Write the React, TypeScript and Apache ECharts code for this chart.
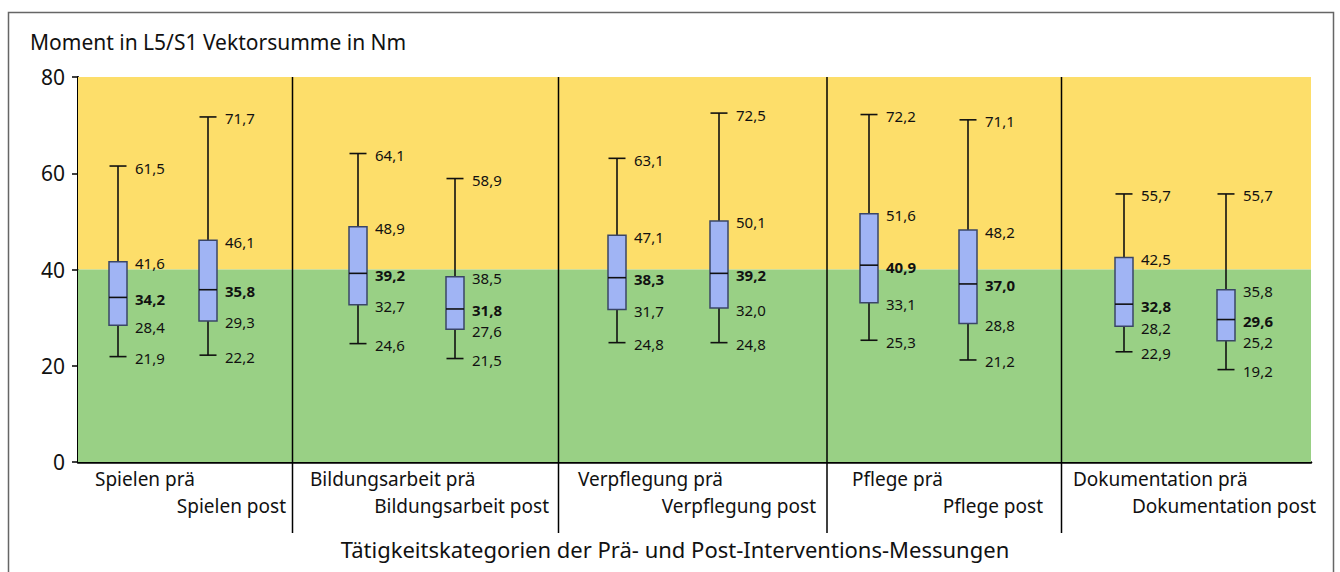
import React, { useEffect, useRef } from "react";
import * as echarts from "echarts";

const categories = [
  "Spielen prä", "Spielen post",
  "Bildungsarbeit prä", "Bildungsarbeit post",
  "Verpflegung prä", "Verpflegung post",
  "Pflege prä", "Pflege post",
  "Dokumentation prä", "Dokumentation post",
];
const minValues = [21.9, 22.2, 24.6, 21.5, 24.8, 24.8, 25.3, 21.2, 22.9, 19.2];
const q1Values = [28.4, 29.3, 32.7, 27.6, 31.7, 32.0, 33.1, 28.8, 28.2, 25.2];
const medianValues = [34.2, 35.8, 39.2, 31.8, 38.3, 39.2, 40.9, 37.0, 32.8, 29.6];
const q3Values = [41.6, 46.1, 48.9, 38.5, 47.1, 50.1, 51.6, 48.2, 42.5, 35.8];
const maxValues = [61.5, 71.7, 64.1, 58.9, 63.1, 72.5, 72.2, 71.1, 55.7, 55.7];
const yTicks = [0, 20, 40, 60, 80];

const yTitle = "Moment in L5/S1 Vektorsumme in Nm";
const xTitle = "Tätigkeitskategorien der Prä- und Post-Interventions-Messungen";

// layout (pixels within plot area)
const GRID_LEFT = 78;
const GRID_TOP = 77;
const GRID_RIGHT_X = 1311;
const GRID_BOTTOM_Y = 462;
const PLOT_W = GRID_RIGHT_X - GRID_LEFT;
const boxSlots = [40, 130, 280, 377, 539, 641, 791, 890, 1046, 1148];
const separators = [214.5, 480.5, 749, 983.5];
const preLabelX = [95, 310, 578, 852, 1073];
const postLabelRightX = [286, 549, 816, 1043, 1316];

const FONT = "Noto Sans";
const fmt = (v: number) => v.toFixed(1).replace(".", ",");

export default function App() {
  const ref = useRef<HTMLDivElement>(null);
  useEffect(() => {
    document.body.style.margin = "0";
    const chart = echarts.init(ref.current!, undefined, { renderer: "svg" });
    const data = categories.map((_, i) => [
      boxSlots[i], minValues[i], q1Values[i], medianValues[i], q3Values[i], maxValues[i],
    ]);

    const graphics: any[] = [
      {
        type: "rect",
        shape: { x: 8.5, y: 12.5, width: 1325, height: 620 },
        style: { fill: "none", stroke: "#666", lineWidth: 1.5 },
        z: 0,
      },
      {
        type: "text",
        left: 30,
        top: 31,
        style: { text: yTitle, font: `21px "${FONT}"`, fill: "#111" },
      },
      {
        type: "text",
        x: 675,
        y: 549,
        style: { text: xTitle, font: `22px "${FONT}"`, fill: "#111", align: "center", verticalAlign: "middle" },
      },
    ];
    separators.forEach((s) => {
      graphics.push({
        type: "line",
        shape: { x1: GRID_LEFT + s, y1: GRID_TOP, x2: GRID_LEFT + s, y2: 533 },
        style: { stroke: "#000", lineWidth: 1.5 },
        z: 10,
      });
    });
    for (let g = 0; g < 5; g++) {
      graphics.push({
        type: "text",
        x: preLabelX[g],
        y: 479,
        style: { text: categories[g * 2], font: `19px "${FONT}"`, fill: "#111", align: "left", verticalAlign: "middle" },
      });
      graphics.push({
        type: "text",
        x: postLabelRightX[g],
        y: 506,
        style: { text: categories[g * 2 + 1], font: `19px "${FONT}"`, fill: "#111", align: "right", verticalAlign: "middle" },
      });
    }

    const option: any = {
      animation: false,
      grid: {
        left: GRID_LEFT,
        top: GRID_TOP,
        width: PLOT_W,
        height: GRID_BOTTOM_Y - GRID_TOP,
      },
      xAxis: {
        type: "value",
        min: 0,
        max: PLOT_W,
        axisLine: { show: true, onZero: false, lineStyle: { color: "#000", width: 2.5 } },
        axisTick: { show: false },
        axisLabel: { show: false },
        splitLine: { show: false },
      },
      yAxis: {
        type: "value",
        min: yTicks[0],
        max: yTicks[yTicks.length - 1],
        interval: 20,
        axisLine: { show: true, lineStyle: { color: "#000", width: 2 } },
        axisTick: { show: true, length: 6, lineStyle: { color: "#000", width: 1.5 } },
        axisLabel: { color: "#111", fontSize: 21, fontFamily: FONT, margin: 13 },
        splitLine: { show: false },
      },
      graphic: graphics,
      series: [
        {
          type: "custom",
          data,
          clip: false,
          markArea: {
            silent: true,
            data: [
              [{ yAxis: 40, itemStyle: { color: "#FDDE6A" } }, { yAxis: 80 }],
              [{ yAxis: 0, itemStyle: { color: "#99D085" } }, { yAxis: 40 }],
            ],
          },
          renderItem: (params: any, api: any) => {
            const x = api.value(0);
            const vals = [api.value(1), api.value(2), api.value(3), api.value(4), api.value(5)];
            const pts = vals.map((v) => api.coord([x, v]));
            const cx = pts[0][0];
            const yMin = pts[0][1], yQ1 = pts[1][1], yMed = pts[2][1], yQ3 = pts[3][1], yMax = pts[4][1];
            const bw = 18;
            const cw = 17;
            const lineStyle = { stroke: "#111", lineWidth: 1.6 };
            const labelX = cx + 17;
            const children: any[] = [
              { type: "line", shape: { x1: cx, y1: yMax, x2: cx, y2: yQ3 }, style: lineStyle },
              { type: "line", shape: { x1: cx, y1: yQ1, x2: cx, y2: yMin }, style: lineStyle },
              { type: "line", shape: { x1: cx - cw / 2, y1: yMax, x2: cx + cw / 2, y2: yMax }, style: lineStyle },
              { type: "line", shape: { x1: cx - cw / 2, y1: yMin, x2: cx + cw / 2, y2: yMin }, style: lineStyle },
              {
                type: "rect",
                shape: { x: cx - bw / 2, y: yQ3, width: bw, height: yQ1 - yQ3 },
                style: { fill: "#A0B4F4", stroke: "#3A4566", lineWidth: 1.5 },
              },
              { type: "line", shape: { x1: cx - bw / 2, y1: yMed, x2: cx + bw / 2, y2: yMed }, style: lineStyle },
            ];
            vals.forEach((v, k) => {
              children.push({
                type: "text",
                x: labelX,
                y: pts[k][1] + 1.5,
                style: {
                  text: fmt(v),
                  font: `${k === 2 ? "bold " : ""}15px "${FONT}"`,
                  fill: "#111",
                  align: "left",
                  verticalAlign: "middle",
                },
              });
            });
            return { type: "group", children };
          },
        },
      ],
    };
    chart.setOption(option);
    return () => chart.dispose();
  }, []);
  return <div ref={ref} style={{ width: 1340, height: 572 }} />;
}
